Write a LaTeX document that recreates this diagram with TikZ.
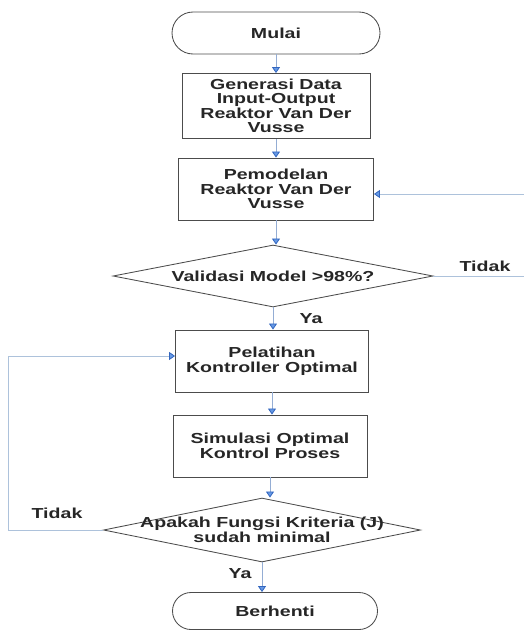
\documentclass[tikz,border=0pt]{standalone}
\usepackage{fontspec}
\setmainfont{Liberation Sans}[FakeStretch=1.35]
\usetikzlibrary{shapes.misc,shapes.geometric,arrows.meta}
\definecolor{linec}{rgb}{0.58,0.68,0.83}
\definecolor{loopc}{rgb}{0.68,0.76,0.86}
\definecolor{arrowf}{rgb}{0.40,0.60,0.90}
\definecolor{arrowd}{rgb}{0.20,0.40,0.75}
\begin{document}
\begin{tikzpicture}[x=1pt,y=-1pt,
  txt/.style={font=\fontsize{14.5}{14.5}\selectfont\bfseries, align=center, text=black!85},
  box/.style={txt, draw=black!70, line width=0.85pt, rectangle, inner sep=0pt},
  term/.style={txt, draw=black!70, line width=0.85pt, rounded rectangle, inner sep=0pt},
  dia/.style={draw=black!70, line width=0.85pt, diamond, inner sep=0pt},
  flow/.style={draw=linec, line width=0.8pt, -{Triangle[width=8pt,length=6pt,fill=arrowf,color=arrowd]}},
  loopflow/.style={flow, draw=loopc},
  lbl/.style={txt}
]
\useasboundingbox (0,0) rectangle (523,632);

\node[term, minimum width=208pt, minimum height=42pt] (start) at (276,33) {Mulai};
\node[box, minimum width=188pt, minimum height=65pt] (b1) at (276,106) {Generasi Data\\Input-Output\\Reaktor Van Der\\Vusse};
\node[box, minimum width=195pt, minimum height=62pt] (b2) at (276,189) {Pemodelan\\Reaktor Van Der\\Vusse};
\node[dia, minimum width=320pt, minimum height=62pt] (d1) at (273,276) {};
\node[txt] at (d1) {Validasi Model >98\%?};
\node[box, minimum width=193pt, minimum height=62pt] (b3) at (272,361) {Pelatihan\\Kontroller Optimal};
\node[box, minimum width=194pt, minimum height=62pt] (b4) at (270,446) {Simulasi Optimal\\Kontrol Proses};
\node[dia, minimum width=317pt, minimum height=64pt] (d2) at (262,530) {};
\node[txt] at (d2) {Apakah Fungsi Kriteria (J)\\sudah minimal};
\node[term, minimum width=205pt, minimum height=37pt] (end) at (275,611) {Berhenti};

\draw[flow] (start.south) -- (start.south |- b1.north);
\draw[flow] (b1.south) -- (b1.south |- b2.north);
\draw[flow] (b2.south) -- (b2.south |- d1.north);
\draw[flow] (d1.south) -- (d1.south |- b3.north);
\draw[flow] (b3.south) -- (b3.south |- b4.north);
\draw[flow] (b4.south) -- (b4.south |- d2.north);
\draw[flow] (d2.south) -- (d2.south |- end.north);

\coordinate (r1) at (528,276);
\coordinate (r2) at (528,194);
\draw[loopflow] (d1.east) -- (r1) -- (r2) -- (b2.east |- r2);
\coordinate (l1) at (8,530);
\coordinate (l2) at (8,356);
\draw[loopflow] (d2.west) -- (l1) -- (l2) -- (b3.west |- l2);

\node[lbl] (t1) at (485,266) {Tidak};
\node[lbl] (y1) at (311,319) {Ya};
\node[lbl] (t2) at (57,513) {Tidak};
\node[lbl] (y2) at (240,574) {Ya};
\end{tikzpicture}
\end{document}
